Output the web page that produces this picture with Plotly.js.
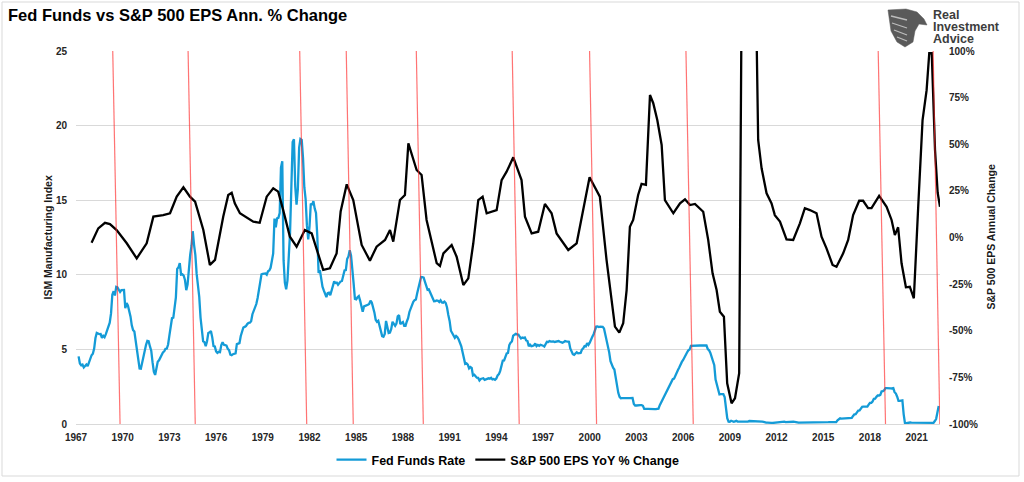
<!DOCTYPE html>
<html>
<head>
<meta charset="utf-8">
<script src="https://cdn.plot.ly/plotly-3.0.1.min.js"></script>
<style>
  html, body { margin: 0; padding: 0; background: #ffffff; }
  #chart { width: 1024px; height: 482px; }
</style>
</head>
<body>
<div id="chart"></div>
<script>
// ---------------- DATA ----------------
// Effective Fed Funds Rate, monthly, starting March 1967
const fedStartYear = 1967;
const fedStartMonth = 2; // 0 = January
const fedFundsRate = [
  4.53, 4.05, 3.94, 3.98, 3.79, 3.90, 3.99, 3.88, 4.13, 4.51,
  4.61, 4.71, 5.05, 5.76, 6.11, 6.07, 6.02, 6.03, 5.78, 5.91, 5.82, 6.02,
  6.30, 6.61, 6.79, 7.41, 8.67, 8.90, 8.61, 9.19, 9.15, 9.00, 8.85, 8.97,
  8.98, 8.98, 7.76, 8.10, 7.95, 7.61, 7.21, 6.61, 6.29, 6.20, 5.60, 4.90,
  4.14, 3.72, 3.71, 4.15, 4.63, 4.91, 5.31, 5.57, 5.55, 5.20, 4.91, 4.14,
  3.50, 3.29, 3.83, 4.17, 4.27, 4.46, 4.55, 4.80, 4.87, 5.04, 5.06, 5.33,
  5.94, 6.58, 7.09, 7.12, 7.84, 8.49, 10.40, 10.50, 10.78, 10.01, 10.03, 9.95,
  9.65, 8.97, 9.35, 10.51, 11.31, 11.93, 12.92, 12.01, 11.34, 10.06, 9.45, 8.53,
  7.13, 6.24, 5.54, 5.49, 5.22, 5.55, 6.10, 6.14, 6.24, 5.82, 5.22, 5.20,
  4.87, 4.77, 4.84, 4.82, 5.29, 5.48, 5.31, 5.29, 5.25, 5.03, 4.95, 4.65,
  4.61, 4.68, 4.69, 4.73, 5.35, 5.39, 5.42, 5.90, 6.14, 6.47, 6.51, 6.56,
  6.70, 6.78, 6.79, 6.89, 7.36, 7.60, 7.81, 8.04, 8.45, 8.96, 9.76, 10.03,
  10.07, 10.06, 10.09, 10.01, 10.24, 10.29, 10.47, 10.94, 11.43, 13.77, 13.18, 13.78,
  13.82, 14.13, 17.19, 17.61, 10.98, 9.47, 9.03, 9.61, 10.87, 12.81, 15.85, 18.90,
  19.08, 15.93, 14.70, 15.72, 18.52, 19.10, 19.04, 17.82, 15.87, 15.08, 13.31, 12.37,
  13.22, 14.78, 14.68, 14.94, 14.45, 14.15, 12.59, 10.12, 10.31, 9.71, 9.20, 8.95,
  8.68, 8.51, 8.77, 8.80, 8.63, 8.98, 9.37, 9.56, 9.45, 9.48, 9.34, 9.47,
  9.56, 9.59, 9.91, 10.29, 10.32, 11.06, 11.23, 11.64, 11.30, 9.99, 9.43, 8.38,
  8.35, 8.50, 8.58, 8.27, 7.97, 7.53, 7.88, 7.90, 7.92, 7.99, 8.05, 8.27,
  8.14, 7.86, 7.48, 6.99, 6.85, 6.92, 6.56, 6.17, 5.89, 5.85, 6.04, 6.91,
  6.43, 6.10, 6.13, 6.37, 6.85, 6.73, 6.58, 6.73, 7.22, 7.29, 6.69, 6.77,
  6.83, 6.58, 6.58, 6.87, 7.09, 7.51, 7.75, 8.01, 8.19, 8.30, 8.35, 8.76,
  9.12, 9.36, 9.85, 9.84, 9.81, 9.53, 9.24, 8.99, 9.02, 8.84, 8.55, 8.45,
  8.23, 8.24, 8.28, 8.26, 8.18, 8.29, 8.15, 8.13, 8.20, 8.11, 7.81, 7.31,
  6.91, 6.25, 6.12, 5.91, 5.78, 5.90, 5.82, 5.66, 5.45, 5.21, 4.81, 4.43,
  4.03, 4.06, 3.98, 3.73, 3.82, 3.76, 3.25, 3.30, 3.22, 3.10, 3.09, 2.92,
  3.02, 3.03, 3.07, 2.96, 3.00, 3.04, 3.06, 3.03, 3.09, 2.99, 3.02, 2.96,
  3.05, 3.25, 3.34, 3.56, 4.01, 4.25, 4.26, 4.47, 4.73, 4.76, 5.29, 5.45,
  5.53, 5.92, 5.98, 6.05, 6.01, 6.00, 5.85, 5.74, 5.80, 5.76, 5.80, 5.60,
  5.56, 5.22, 5.31, 5.22, 5.24, 5.27, 5.40, 5.22, 5.30, 5.24, 5.31, 5.29,
  5.25, 5.19, 5.39, 5.51, 5.50, 5.56, 5.52, 5.54, 5.54, 5.50, 5.52, 5.50,
  5.56, 5.51, 5.49, 5.45, 5.49, 5.56, 5.54, 5.55, 5.51, 5.07, 4.83, 4.68,
  4.63, 4.76, 4.81, 4.74, 4.74, 4.76, 4.99, 5.07, 5.22, 5.20, 5.42, 5.30,
  5.45, 5.73, 5.85, 6.02, 6.27, 6.53, 6.54, 6.50, 6.52, 6.51, 6.51, 6.40,
  5.98, 5.49, 5.31, 4.80, 4.21, 3.97, 3.77, 3.65, 3.07, 2.49, 2.09, 1.82,
  1.73, 1.74, 1.73, 1.75, 1.75, 1.75, 1.73, 1.74, 1.75, 1.75, 1.34, 1.24,
  1.24, 1.26, 1.25, 1.26, 1.26, 1.22, 1.01, 1.03, 1.01, 1.01, 1.00, 0.98,
  1.00, 1.01, 1.00, 1.00, 1.00, 1.03, 1.26, 1.43, 1.61, 1.76, 1.93, 2.16,
  2.28, 2.50, 2.63, 2.79, 3.00, 3.04, 3.26, 3.50, 3.62, 3.78, 4.00, 4.16,
  4.29, 4.49, 4.59, 4.79, 4.94, 4.99, 5.24, 5.25, 5.25, 5.25, 5.25, 5.24,
  5.25, 5.26, 5.26, 5.25, 5.25, 5.25, 5.26, 5.02, 4.94, 4.76, 4.49, 4.24,
  3.94, 2.98, 2.61, 2.28, 1.98, 2.00, 2.01, 2.00, 1.81, 0.97, 0.39, 0.16,
  0.15, 0.22, 0.18, 0.15, 0.18, 0.21, 0.16, 0.16, 0.15, 0.12, 0.12, 0.12,
  0.11, 0.13, 0.16, 0.20, 0.20, 0.18, 0.18, 0.19, 0.19, 0.19, 0.19, 0.18,
  0.17, 0.16, 0.14, 0.10, 0.09, 0.09, 0.07, 0.10, 0.08, 0.07, 0.08, 0.07,
  0.08, 0.10, 0.13, 0.14, 0.16, 0.16, 0.16, 0.13, 0.14, 0.16, 0.16, 0.16,
  0.14, 0.15, 0.14, 0.15, 0.11, 0.09, 0.09, 0.08, 0.08, 0.09, 0.08, 0.09,
  0.07, 0.07, 0.08, 0.09, 0.09, 0.10, 0.09, 0.09, 0.09, 0.09, 0.09, 0.12,
  0.11, 0.11, 0.11, 0.12, 0.12, 0.13, 0.13, 0.14, 0.14, 0.12, 0.12, 0.24,
  0.34, 0.38, 0.36, 0.37, 0.37, 0.38, 0.39, 0.40, 0.40, 0.40, 0.41, 0.54,
  0.65, 0.66, 0.79, 0.90, 0.91, 1.04, 1.15, 1.16, 1.15, 1.15, 1.16, 1.30,
  1.41, 1.42, 1.51, 1.69, 1.70, 1.82, 1.91, 1.91, 1.95, 2.19, 2.20, 2.27,
  2.40, 2.40, 2.41, 2.42, 2.39, 2.38, 2.40, 2.13, 2.04, 1.83, 1.55, 1.55,
  1.55, 1.58, 0.65, 0.05, 0.05, 0.08, 0.09, 0.10, 0.09, 0.09, 0.09, 0.09,
  0.09, 0.08, 0.07, 0.07, 0.06, 0.08, 0.10, 0.09, 0.08, 0.08, 0.08, 0.08,
  0.08, 0.08, 0.20, 0.33, 0.77, 1.21
];

// S&P 500 EPS year-over-year % change
const epsYears = [
  1968.00, 1968.43, 1968.86, 1969.18, 1969.61, 1970.26, 1970.90, 1971.54, 1971.97, 1972.60,
  1973.04, 1973.47, 1973.90, 1974.32, 1974.65, 1975.18, 1975.60, 1975.93, 1976.46, 1976.78,
  1977.00, 1977.20, 1977.53, 1978.39, 1978.80, 1979.25, 1979.67, 1979.99, 1980.31, 1980.74,
  1981.17, 1981.70, 1982.14, 1982.88, 1983.31, 1983.74, 1984.00, 1984.39, 1984.81, 1985.35,
  1985.88, 1986.31, 1986.85, 1987.17, 1987.38, 1987.81, 1988.13, 1988.35, 1988.88, 1989.20,
  1989.52, 1990.17, 1990.38, 1990.60, 1991.13, 1991.45, 1991.88, 1992.20, 1992.52, 1992.84,
  1993.12, 1993.38, 1994.02, 1994.34, 1994.66, 1995.09, 1995.62, 1995.84, 1996.27, 1996.69,
  1997.12, 1997.55, 1997.87, 1998.62, 1999.16, 1999.58, 1999.99, 2000.65, 2001.08, 2001.62,
  2001.90, 2002.15, 2002.37, 2002.58, 2002.79, 2003.11, 2003.33, 2003.61, 2003.87, 2004.08,
  2004.34, 2004.62, 2004.83, 2005.37, 2005.80, 2006.12, 2006.44, 2006.76, 2007.29, 2007.61,
  2007.89, 2008.15, 2008.36, 2008.62, 2008.83, 2009.11, 2009.33, 2009.60, 2009.85, 2010.10,
  2010.35, 2010.55, 2010.82, 2011.04, 2011.36, 2011.68, 2011.89, 2012.22, 2012.64, 2013.07,
  2013.50, 2013.82, 2014.14, 2014.57, 2014.89, 2015.21, 2015.60, 2015.85, 2016.28, 2016.60,
  2016.92, 2017.31, 2017.56, 2017.88, 2018.10, 2018.59, 2019.07, 2019.39, 2019.60, 2019.81,
  2020.03, 2020.31, 2020.56, 2020.82, 2021.10, 2021.38, 2021.64, 2021.81, 2021.97, 2022.18,
  2022.35, 2022.50
];
const epsChange = [
  -2.8, 4.9, 7.9, 7.2, 4.0, -3.1, -11.2, -3.1, 11.2, 12.0,
  13.0, 21.9, 26.9, 21.9, 19.2, 4.0, -14.7, -12.0, 11.2, 22.8,
  24.0, 18.3, 13.0, 8.5, 7.9, 21.9, 26.4, 24.6, 14.7, 0.4,
  -4.9, 4.0, 2.2, -17.4, -16.5, -8.5, 14.0, 28.5, 20.1, -4.0,
  -12.4, -4.9, -1.3, 4.0, -2.2, 20.1, 22.8, 50.5, 36.2, 33.5,
  9.4, -13.8, -15.3, -8.5, -4.0, -10.3, -25.5, -21.9, -3.1, 20.1,
  21.9, 13.0, 14.7, 30.8, 35.3, 43.0, 30.8, 11.2, 2.2, 3.1,
  18.0, 13.0, 2.2, -6.7, -3.1, 14.7, 32.3, 21.9, -12.0, -47.8,
  -51.0, -46.0, -28.2, 5.8, 9.4, 22.8, 28.7, 28.2, 76.4, 72.0,
  63.0, 49.6, 20.1, 13.0, 18.3, 20.5, 17.4, 18.0, 13.8, -1.3,
  -19.2, -28.2, -39.8, -42.5, -78.2, -88.9, -86.2, -72.8, 250.0, 400.0,
  300.0, 200.0, 52.3, 37.1, 23.7, 18.3, 12.0, 8.5, -1.0, -1.3,
  7.6, 15.7, 14.7, 13.0, 0.4, -5.8, -14.7, -15.7, -8.5, -1.3,
  12.0, 19.7, 19.7, 15.7, 15.7, 22.3, 16.5, 9.4, 1.3, 5.5,
  -13.8, -26.7, -26.4, -32.6, 16.5, 63.0, 79.0, 98.8, 98.8, 47.0,
  24.0, 16.5
];

// Red marker lines (top / bottom x position, in years)
const markerTopYears    = [1969.36, 1974.20, 1981.37, 1984.36, 1988.86, 1995.02, 1999.99, 2006.18, 2018.53, 2022.06];
const markerBottomYears = [1969.83, 1974.66, 1981.82, 1984.81, 1989.31, 1995.47, 2000.44, 2006.65, 2019.00, 2022.49];

// Tick labels
const xTickYears  = [1967, 1970, 1973, 1976, 1979, 1982, 1985, 1988, 1991, 1994, 1997, 2000, 2003, 2006, 2009, 2012, 2015, 2018, 2021];
const xTickLabels = xTickYears.map(String);
const yLeftTicks  = [0, 5, 10, 15, 20, 25];
const yRightTicks = [-100, -75, -50, -25, 0, 25, 50, 75, 100];
const yRightLabels = ["-100%", "-75%", "-50%", "-25%", "0%", "25%", "50%", "75%", "100%"];

// ---------------- CHART ----------------
const FONT = "Liberation Sans, Arial, sans-serif";
const W = 1024, H = 482;
const M = { l: 76, r: 84, t: 51, b: 58, autoexpand: false };
const PW = W - M.l - M.r, PH = H - M.t - M.b;
const px2x = x => (x - M.l) / PW;
const px2y = y => (H - M.b - y) / PH;
const pt = (x, y) => px2x(x).toFixed(5) + "," + px2y(y).toFixed(5);

const fedX = fedFundsRate.map((v, i) => fedStartYear + (fedStartMonth + i) / 12);

const traces = [
  {
    name: "Fed Funds Rate",
    x: fedX, y: fedFundsRate,
    type: "scatter", mode: "lines",
    line: { color: "#149bd7", width: 2.3 },
    yaxis: "y", hoverinfo: "skip"
  },
  {
    name: "S&P 500 EPS YoY % Change",
    x: epsYears, y: epsChange,
    type: "scatter", mode: "lines",
    line: { color: "#000000", width: 2.3 },
    yaxis: "y2", hoverinfo: "skip"
  }
];

const shapes = [];
// outer border
shapes.push({
  type: "rect", xref: "paper", yref: "paper",
  x0: px2x(2), x1: px2x(1019), y0: px2y(476), y1: px2y(2),
  line: { color: "#d9d9d9", width: 1 }, fillcolor: "rgba(0,0,0,0)", layer: "below"
});
markerTopYears.forEach((t, i) => {
  shapes.push({
    type: "line", xref: "x", yref: "paper",
    x0: t, y0: 1, x1: markerBottomYears[i], y1: 0,
    line: { color: "rgba(255,40,40,0.65)", width: 1.2 }
  });
});
// logo icon (decorative)
shapes.push({
  type: "path", xref: "paper", yref: "paper",
  path: "M" + pt(888, 10) + " L" + pt(906, 9) + " L" + pt(917, 12) + " L" + pt(924, 19) +
        " L" + pt(927, 25) + " L" + pt(919, 24) + " L" + pt(915, 31) + " L" + pt(913, 42) +
        " L" + pt(905, 47) + " L" + pt(897, 42) + " L" + pt(891, 31) + " Z",
  fillcolor: "#5a5a5a", line: { color: "#5a5a5a", width: 0.5 }
});
[[891, 16, 907, 20], [892, 23, 907, 28], [894, 30, 907, 35], [897, 37, 907, 41]].forEach(s => {
  shapes.push({
    type: "line", xref: "paper", yref: "paper",
    x0: px2x(s[0]), y0: px2y(s[1]), x1: px2x(s[2]), y1: px2y(s[3]),
    line: { color: "#bdbdbd", width: 1.3 }
  });
});

const annFont = { family: FONT, size: 10.5, color: "#1a1a1a", weight: "bold" };
const logoFont = { family: FONT, size: 12.5, color: "#3d3d3d", weight: "bold" };
const annotations = [
  { text: "ISM Manufacturing Index", xref: "paper", yref: "paper", x: px2x(47), y: 0.5,
    xanchor: "center", yanchor: "middle", textangle: -90, showarrow: false, font: annFont },
  { text: "S&P 500 EPS Annual Change", xref: "paper", yref: "paper", x: px2x(990), y: 0.5,
    xanchor: "center", yanchor: "middle", textangle: -90, showarrow: false, font: annFont },
  { text: "Real", xref: "paper", yref: "paper", x: px2x(931), y: px2y(15),
    xanchor: "left", yanchor: "middle", showarrow: false, font: logoFont },
  { text: "Investment", xref: "paper", yref: "paper", x: px2x(931), y: px2y(27),
    xanchor: "left", yanchor: "middle", showarrow: false, font: logoFont },
  { text: "Advice", xref: "paper", yref: "paper", x: px2x(931), y: px2y(39),
    xanchor: "left", yanchor: "middle", showarrow: false, font: logoFont }
];

const tickFont = { family: FONT, size: 10, color: "#262626", weight: "bold" };

const layout = {
  width: W, height: H,
  margin: M,
  paper_bgcolor: "#ffffff", plot_bgcolor: "#ffffff",
  font: { family: FONT },
  title: {
    text: "Fed Funds vs S&P 500 EPS Ann. % Change",
    xref: "container", yref: "container",
    x: 8 / W, xanchor: "left", y: 1 - 15 / H, yanchor: "middle",
    font: { family: FONT, size: 16.5, color: "#000000", weight: "bold" },
    automargin: false
  },
  showlegend: true,
  legend: {
    orientation: "h", x: 0.5, xanchor: "center",
    y: -(460 - (H - M.b)) / PH, yanchor: "middle",
    font: { family: FONT, size: 12.5, color: "#000000", weight: "bold" },
    bgcolor: "rgba(0,0,0,0)"
  },
  xaxis: {
    type: "linear", range: [1967, 2022.5],
    tickvals: xTickYears, ticktext: xTickLabels,
    tickfont: tickFont, ticks: "", showgrid: false, zeroline: false,
    showline: true, linecolor: "#d9d9d9", linewidth: 1,
    ticklabelstandoff: 4, fixedrange: true
  },
  yaxis: {
    range: [0, 25], tickvals: yLeftTicks, ticktext: yLeftTicks.map(String),
    tickfont: tickFont, ticks: "", showgrid: true, gridcolor: "#d9d9d9", gridwidth: 1,
    zeroline: false, showline: false, ticklabelstandoff: 8, fixedrange: true
  },
  yaxis2: {
    overlaying: "y", side: "right",
    range: [-100, 100], tickvals: yRightTicks, ticktext: yRightLabels,
    tickfont: tickFont, ticks: "", showgrid: false, zeroline: false, showline: false,
    ticklabelstandoff: 8, fixedrange: true
  },
  shapes: shapes,
  annotations: annotations
};

Plotly.newPlot("chart", traces, layout, { displayModeBar: false, staticPlot: true });
</script>
</body>
</html>
